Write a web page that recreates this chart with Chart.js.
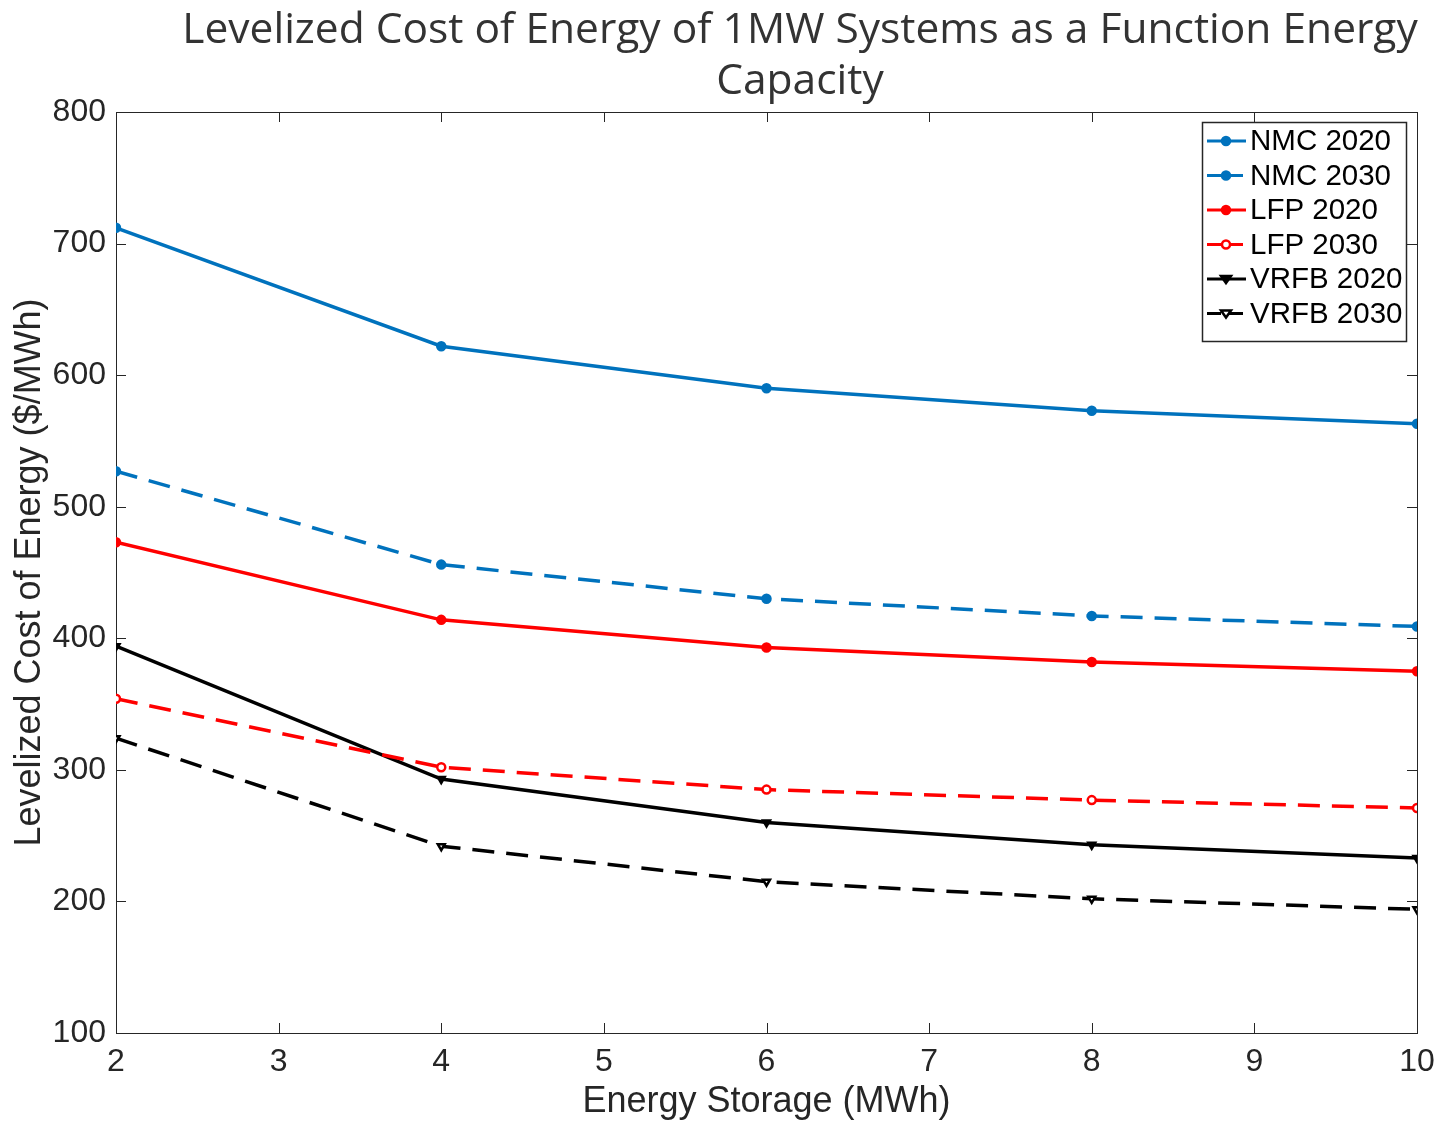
<!DOCTYPE html>
<html>
<head>
<meta charset="utf-8">
<script src="https://cdn.jsdelivr.net/npm/chart.js@4.4.1/dist/chart.umd.min.js"></script>
<style>
  html, body { margin: 0; padding: 0; background: #fff; }
  #wrap { width: 1439px; height: 1122px; position: relative; }
</style>
</head>
<body>
<div id="wrap"><canvas id="lcoe"></canvas></div>
<script>
// energy storage capacity (MWh)
const storage = [2, 4, 6, 8, 10];

// LCOE ($/MWh)
const nmc2020 = [712, 622, 590, 573, 563];
const nmc2030 = [527, 456, 430, 417, 409];
const lfp2020 = [473, 414, 393, 382, 375];
const lfp2030 = [354, 302, 285, 277, 271];
const vrfb2020 = [394, 293, 260, 243, 233];
const vrfb2030 = [324, 242, 215, 202, 194];

const titleLines = ['Levelized Cost of Energy of 1MW Systems as a Function Energy', 'Capacity'];

const BLUE = '#0072BD';
const RED = '#FF0000';
const BLACK = '#000000';
const AXIS = '#262626';
const DASH = [22, 12];

function series(label, values, color, dashed, pointStyle, hollow) {
  return {
    label,
    data: storage.map((x, i) => ({ x, y: values[i] })),
    borderColor: color,
    backgroundColor: hollow ? '#ffffff' : color,
    borderWidth: 3.5,
    borderDash: dashed ? DASH : [],
    pointStyle,
    rotation: pointStyle === 'triangle' ? 180 : 0,
    pointRadius: 4,
    pointBorderWidth: 2.5,
    pointBorderColor: color,
    pointBackgroundColor: hollow ? '#ffffff' : color,
    tension: 0
  };
}

const datasets = [
  series('NMC 2020', nmc2020, BLUE, false, 'circle', false),
  series('NMC 2030', nmc2030, BLUE, true, 'circle', false),
  series('LFP 2020', lfp2020, RED, false, 'circle', false),
  series('LFP 2030', lfp2030, RED, true, 'circle', true),
  series('VRFB 2020', vrfb2020, BLACK, false, 'triangle', false),
  series('VRFB 2030', vrfb2030, BLACK, true, 'triangle', true)
];

// title centred over the figure like the original export
const titlePlugin = {
  id: 'matlabTitle',
  afterDraw(chart) {
    const ctx = chart.ctx;
    ctx.save();
    ctx.fillStyle = '#333333';
    ctx.font = '42.5px "Open Sans"';
    ctx.textAlign = 'center';
    ctx.textBaseline = 'middle';
    titleLines.forEach((t, i) => ctx.fillText(t, 800, 31 + i * 51));
    ctx.restore();
  }
};

// box around the axes with inward tick marks on all four sides
const boxPlugin = {
  id: 'matlabBox',
  beforeDatasetsDraw(chart) {
    const { ctx, chartArea: a, scales } = chart;
    const len = 10;
    ctx.save();
    ctx.strokeStyle = AXIS;
    ctx.lineWidth = 1;
    ctx.beginPath();
    scales.x.ticks.forEach(t => {
      const px = Math.round(scales.x.getPixelForValue(t.value)) + 0.5;
      ctx.moveTo(px, a.bottom); ctx.lineTo(px, a.bottom - len);
      ctx.moveTo(px, a.top); ctx.lineTo(px, a.top + len);
    });
    scales.y.ticks.forEach(t => {
      const py = Math.round(scales.y.getPixelForValue(t.value)) + 0.5;
      ctx.moveTo(a.left, py); ctx.lineTo(a.left + len, py);
      ctx.moveTo(a.right, py); ctx.lineTo(a.right - len, py);
    });
    ctx.stroke();
    ctx.strokeRect(Math.round(a.left) + 0.5, Math.round(a.top) + 0.5,
      Math.round(a.right - a.left), Math.round(a.bottom - a.top));
    ctx.restore();
  }
};

// MATLAB style legend box in the upper right corner
const legendPlugin = {
  id: 'matlabLegend',
  afterDatasetsDraw(chart) {
    const ctx = chart.ctx;
    const a = chart.chartArea;
    const boxW = 204, rowH = 34.5;
    const boxH = 12 + rowH * chart.data.datasets.length;
    const x0 = a.right - 11 - boxW, y0 = a.top + 10;
    ctx.save();
    ctx.fillStyle = '#fff';
    ctx.fillRect(x0, y0, boxW, boxH);
    ctx.strokeStyle = AXIS;
    ctx.lineWidth = 1.5;
    ctx.strokeRect(x0 + 0.5, y0 + 0.5, boxW, boxH);
    ctx.font = '29.5px "Liberation Sans", Arial, sans-serif';
    ctx.textBaseline = 'middle';
    chart.data.datasets.forEach((ds, i) => {
      const cy = y0 + 19 + i * rowH;
      ctx.strokeStyle = ds.borderColor;
      ctx.lineWidth = 3;
      ctx.setLineDash(ds.borderDash.length ? [14, 8] : []);
      ctx.beginPath();
      ctx.moveTo(x0 + 5, cy);
      ctx.lineTo(x0 + 44, cy);
      ctx.stroke();
      ctx.setLineDash([]);
      ctx.fillStyle = ds.pointBackgroundColor;
      ctx.strokeStyle = ds.borderColor;
      ctx.lineWidth = 2.5;
      ctx.beginPath();
      if (ds.pointStyle === 'triangle') {
        ctx.moveTo(x0 + 19, cy - 3); ctx.lineTo(x0 + 29, cy - 3); ctx.lineTo(x0 + 24, cy + 4); ctx.closePath();
      } else {
        ctx.arc(x0 + 24, cy, 4, 0, Math.PI * 2);
      }
      ctx.fill(); ctx.stroke();
      ctx.fillStyle = '#000';
      ctx.fillText(ds.label, x0 + 48, cy + 1);
    });
    ctx.restore();
  }
};

const tickFont = { family: '"Liberation Sans", Arial, sans-serif', size: 32 };
const axisTitleFont = { family: '"Liberation Sans", Arial, sans-serif', size: 36, lineHeight: 1.1 };

new Chart(document.getElementById('lcoe'), {
  type: 'line',
  data: { datasets },
  options: {
    responsive: true,
    maintainAspectRatio: false,
    animation: false,
    layout: { padding: { top: 112, right: 22, left: 0, bottom: 0 } },
    plugins: {
      legend: { display: false },
      title: { display: false },
      tooltip: { enabled: false }
    },
    scales: {
      x: {
        type: 'linear',
        min: 2,
        max: 10,
        border: { display: false },
        grid: { display: false, drawTicks: false },
        ticks: { stepSize: 1, color: AXIS, font: tickFont, padding: 10, maxRotation: 0 },
        title: { display: true, text: 'Energy Storage (MWh)', color: AXIS, font: axisTitleFont, padding: { top: 0, bottom: 0 } },
        afterFit(s) {
          s.height = 89;
          s.paddingLeft = 0;
          s.paddingRight = 0;
        }
      },
      y: {
        min: 100,
        max: 800,
        border: { display: false },
        grid: { display: false, drawTicks: false },
        ticks: { stepSize: 100, color: AXIS, font: tickFont, padding: 10 },
        title: { display: true, text: 'Levelized Cost of Energy ($/MWh)', color: AXIS, font: axisTitleFont, padding: { top: 10, bottom: 0 } },
        afterFit(s) {
          s.width = 116;
          s.paddingTop = 0;
          s.paddingBottom = 0;
        }
      }
    }
  },
  plugins: [boxPlugin, legendPlugin, titlePlugin]
});
</script>
</body>
</html>
